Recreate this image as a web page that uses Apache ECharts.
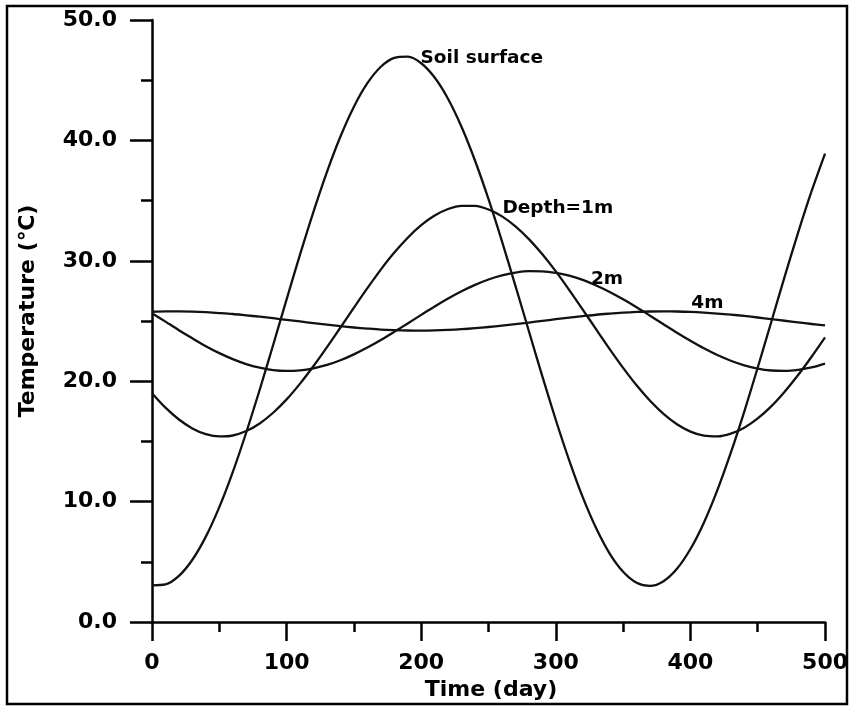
<!DOCTYPE html>
<html>
<head>
<meta charset="utf-8">
<script src="https://cdn.jsdelivr.net/npm/echarts@6/dist/echarts.min.js"></script>
<style>html,body{margin:0;padding:0;background:#fff}#c{width:851px;height:709px}</style>
</head>
<body>
<div id="c"></div>
<script>
const days = [0,10,20,30,40,50,60,70,80,90,100,110,120,130,140,150,160,170,180,190,200,210,220,230,240,250,260,270,280,290,300,310,320,330,340,350,360,370,380,390,400,410,420,430,440,450,460,470,480,490,500];
const soilSurface = [3.05,3.12,3.83,5.17,7.09,9.54,12.45,15.74,19.29,23.01,26.80,30.53,34.09,37.39,40.32,42.80,44.75,46.12,46.86,46.96,46.41,45.22,43.44,41.11,38.31,35.12,31.62,27.92,24.15,20.40,16.78,13.41,10.37,7.78,5.68,4.17,3.26,3.00,3.39,4.42,6.06,8.25,10.95,14.06,17.48,21.14,24.90,28.68,32.34,35.78,38.91];
const depth1m = [19.00,17.80,16.82,16.08,15.60,15.41,15.49,15.86,16.49,17.38,18.49,19.80,21.26,22.83,24.46,26.11,27.73,29.27,30.68,31.92,32.96,33.76,34.30,34.57,34.56,34.26,33.69,32.86,31.80,30.54,29.12,27.57,25.95,24.30,22.67,21.11,19.66,18.37,17.28,16.42,15.81,15.47,15.41,15.64,16.14,16.91,17.91,19.13,20.51,22.03,23.64];
const depth2m = [25.65,24.95,24.24,23.56,22.91,22.33,21.83,21.42,21.12,20.92,20.85,20.90,21.07,21.35,21.74,22.23,22.79,23.42,24.10,24.80,25.51,26.21,26.87,27.47,28.00,28.45,28.79,29.02,29.14,29.13,29.00,28.76,28.41,27.95,27.41,26.80,26.14,25.44,24.73,24.03,23.36,22.73,22.17,21.70,21.32,21.05,20.89,20.85,20.94,21.14,21.46];
const depth4m = [25.77,25.80,25.80,25.78,25.73,25.66,25.58,25.47,25.36,25.23,25.09,24.96,24.82,24.69,24.57,24.46,24.37,24.29,24.24,24.21,24.20,24.22,24.26,24.32,24.40,24.50,24.61,24.74,24.87,25.01,25.15,25.28,25.40,25.52,25.61,25.69,25.75,25.79,25.80,25.79,25.76,25.70,25.62,25.53,25.42,25.29,25.16,25.02,24.89,24.75,24.63];
const seriesNames = ['Soil surface','Depth=1m','2m','4m'];
const labelCoords = [[245,46.8],[301.5,34.4],[338,28.5],[412.6,26.5]];
const xTicks = [0,100,200,300,400,500];
const yTicks = [0,10,20,30,40,50];

const FONT = 'DejaVu Sans';
const chart = echarts.init(document.getElementById('c'), null, {renderer:'canvas'});
const allSeries = [soilSurface, depth1m, depth2m, depth4m];

const axisCommon = {
  splitLine:{show:false},
  axisLine:{show:true, lineStyle:{color:'#000', width:2.5}},
  axisTick:{show:true, lineStyle:{color:'#000', width:2.5}},
  minorTick:{show:true, splitNumber:2, lineStyle:{color:'#000', width:2.5}},
  axisLabel:{color:'#000', fontSize:22, fontWeight:'bold', fontFamily:FONT}
};

chart.setOption({
  animation:false,
  backgroundColor:'#fff',
  grid:{left:152, right:24, top:20, bottom:87, containLabel:false},
  xAxis:{
    type:'value', min:xTicks[0], max:xTicks[xTicks.length-1], interval:100,
    ...axisCommon,
    axisTick:{...axisCommon.axisTick, length:19},
    minorTick:{...axisCommon.minorTick, length:10},
    axisLabel:{...axisCommon.axisLabel, margin:30},
    name:'Time (day)', nameLocation:'middle', nameGap:56,
    nameTextStyle:{color:'#000', fontSize:22, fontWeight:'bold', fontFamily:FONT, padding:[0,0,0,5]}
  },
  yAxis:{
    type:'value', min:yTicks[0], max:yTicks[yTicks.length-1], interval:10,
    ...axisCommon,
    axisTick:{...axisCommon.axisTick, length:22},
    minorTick:{...axisCommon.minorTick, length:11},
    axisLabel:{...axisCommon.axisLabel, margin:35, formatter:v=>v.toFixed(1)}
  },
  graphic:[
    {type:'rect', shape:{x:7,y:6,width:840,height:698}, style:{fill:'none', stroke:'#000', lineWidth:2.5}, z:100},
    {type:'text', x:28, y:311, rotation:Math.PI/2,
     style:{text:'Temperature (℃)', fill:'#000', font:'bold 22px "DejaVu Sans"', textAlign:'center', textVerticalAlign:'middle'}}
  ],
  series: allSeries.map((vals,i)=>({
    name:seriesNames[i], type:'line', smooth:0.3, showSymbol:false,
    data: days.map((d,j)=>[d, vals[j]]),
    lineStyle:{color:'#111', width:2.3, join:'round'},
    markPoint:{
      symbol:'circle', symbolSize:0,
      data:[{coord:labelCoords[i], value:seriesNames[i]}],
      label:{show:true, position:'inside', formatter:seriesNames[i], color:'#000', fontSize:18.5, fontWeight:'bold', fontFamily:FONT}
    }
  }))
});
</script>
</body>
</html>
